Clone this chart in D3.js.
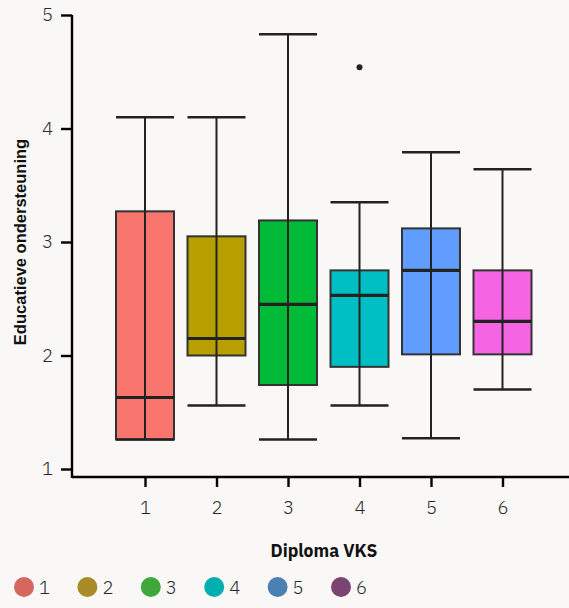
<!DOCTYPE html>
<html><head><meta charset="utf-8">
<script src="https://cdn.jsdelivr.net/npm/d3@7"></script>
<style>
html,body{margin:0;padding:0;background:#f9f8f6;}
svg{display:block;}
.num{font-family:"IBM Plex Sans",Lato,"Noto Sans",sans-serif;font-weight:300;fill:#2a2a2a;}
</style></head>
<body>
<script>
const categories = ["1","2","3","4","5","6"];
const whiskerLow  = [1.26, 1.56, 1.26, 1.56, 1.27, 1.70];
const q1          = [1.26, 2.00, 1.74, 1.90, 2.01, 2.01];
const medians     = [1.63, 2.15, 2.45, 2.53, 2.75, 2.30];
const q3          = [3.27, 3.05, 3.19, 2.75, 3.12, 2.75];
const whiskerHigh = [4.10, 4.10, 4.83, 3.35, 3.79, 3.64];
const outliers    = [{cat:"4", value:4.54}];
const boxColors    = ["#F8766D","#B79F00","#00BA38","#00BFC4","#619CFF","#F564E3"];
const legendColors = ["#D5675F","#A88A27","#3FA83B","#00ADAF","#4B80B2","#7C4471"];
const yTicks = [1,2,3,4,5];
const xTitle = "Diploma VKS";
const yTitle = "Educatieve ondersteuning";

const W = 569, H = 608;
const svg = d3.select("body").append("svg").attr("width", W).attr("height", H);

const x = d3.scalePoint().domain(categories).range([145, 502.5]);
const xLin = d3.scaleLinear().domain([0, 5]).range([145, 502.5]);
const y = d3.scaleLinear().domain([1, 5]).range([469, 15]);
const boxW = 58;

const data = categories.map((c, i) => ({
  cat: c, lo: whiskerLow[i], q1: q1[i], med: medians[i], q3: q3[i], hi: whiskerHigh[i], color: boxColors[i]
}));

const g = svg.append("g");
data.forEach(d => {
  const cx = x(d.cat);
  g.append("rect").attr("x", cx - boxW/2).attr("y", y(d.q3))
    .attr("width", boxW).attr("height", y(d.q1) - y(d.q3))
    .attr("fill", d.color).attr("stroke", "#333").attr("stroke-width", 2);
  g.append("line").attr("x1", cx).attr("x2", cx).attr("y1", y(d.hi)).attr("y2", y(d.lo))
    .attr("stroke", "#222").attr("stroke-width", 2);
  [d.hi, d.lo].forEach(v => g.append("line")
    .attr("x1", cx - boxW/2).attr("x2", cx + boxW/2).attr("y1", y(v)).attr("y2", y(v))
    .attr("stroke", "#222").attr("stroke-width", 2.5));
  g.append("line").attr("x1", cx - boxW/2).attr("x2", cx + boxW/2)
    .attr("y1", y(d.med)).attr("y2", y(d.med))
    .attr("stroke", "#222").attr("stroke-width", 3.2);
});
outliers.forEach(o => g.append("circle").attr("cx", x(o.cat)).attr("cy", y(o.value))
  .attr("r", 3).attr("fill", "#222"));

// Y axis
const yAxis = svg.append("g").attr("transform", "translate(72,0)")
  .call(d3.axisLeft(y).tickValues(yTicks).tickFormat(d3.format("d")).tickSize(11).tickPadding(8));
yAxis.select(".domain").remove();
yAxis.append("line").attr("x1", 0).attr("x2", 0).attr("y1", 15).attr("y2", 478)
  .attr("stroke", "#000").attr("stroke-width", 2.4);
yAxis.selectAll(".tick line").attr("stroke", "#000").attr("stroke-width", 2.4);
yAxis.selectAll(".tick text").attr("class", "num").style("font-size", "18.5px");

// X axis
const xAxisScale = xLin.copy().domain([xLin.invert(72), xLin.invert(W + 2)]).range([72, W + 2]);
const xAxis = svg.append("g").attr("transform", "translate(0,477)")
  .call(d3.axisBottom(x).tickSize(10).tickPadding(14));
xAxis.select(".domain").remove();
xAxis.append("line").attr("x1", xAxisScale.range()[0]).attr("x2", xAxisScale.range()[1])
  .attr("y1", 0).attr("y2", 0).attr("stroke", "#000").attr("stroke-width", 2.4);
xAxis.selectAll(".tick line").attr("stroke", "#000").attr("stroke-width", 2.4);
xAxis.selectAll(".tick text").attr("class", "num").style("font-size", "18.5px");

// Titles
svg.append("text").attr("x", 324).attr("y", 557).attr("text-anchor", "middle")
  .style("font-family", "'IBM Plex Sans',Lato,'Noto Sans',sans-serif").style("font-weight", 700)
  .style("font-size", "17.5px").attr("fill", "#111").text(xTitle);
svg.append("text").attr("transform", "translate(26,242) rotate(-90)").attr("text-anchor", "middle")
  .style("font-family", "'Liberation Sans',Arial,sans-serif").style("font-weight", 700)
  .style("font-size", "16.5px").attr("fill", "#111").text(yTitle);

// Legend
const legX = d3.scalePoint().domain(categories).range([24, 341]);
const leg = svg.append("g").selectAll("g").data(categories).join("g")
  .attr("transform", d => `translate(${legX(d)},587)`);
leg.append("circle").attr("r", 10).attr("fill", (d, i) => legendColors[i]);
leg.append("text").attr("class", "num").attr("x", 15).attr("dy", "0.36em")
  .style("font-size", "18.5px").text(d => d);
</script>
</body></html>
